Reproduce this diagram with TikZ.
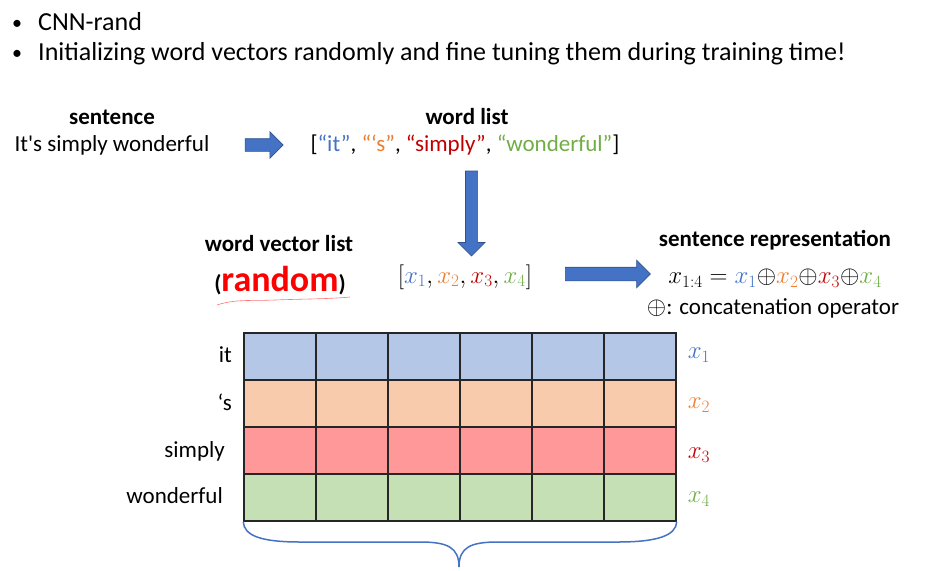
\documentclass[tikz,border=0pt]{standalone}
\usepackage{fontspec}
\setmainfont{Carlito}
\usetikzlibrary{shapes.arrows}
\definecolor{wblue}{HTML}{4472C4}
\definecolor{worange}{HTML}{ED7D31}
\definecolor{wred}{HTML}{C00000}
\definecolor{wgreen}{HTML}{70AD47}
\definecolor{cblue}{HTML}{B4C7E7}
\definecolor{corange}{HTML}{F8CBAD}
\definecolor{cred}{HTML}{FF9999}
\definecolor{cgreen}{HTML}{C5E0B4}
\definecolor{aedge}{HTML}{2F528F}
\definecolor{brightred}{HTML}{FF0000}
\definecolor{gridline}{HTML}{262626}
\newcommand{\straightapos}{\XeTeXglyph\the\XeTeXcharglyph"0027\relax}
\newcommand{\mybullet}{\makebox[26pt][l]{\raisebox{1pt}{\fontsize{20}{24}\selectfont •}}}
\tikzset{
  blockarrow/.style={single arrow, fill=wblue, draw=aedge, line width=0.6pt, single arrow tip angle=90},
  rowbox/.style={draw=gridline, line width=1.5pt, minimum width=432pt, minimum height=47pt, inner sep=0pt},
  body/.style={font=\fontsize{23}{27}\selectfont, inner sep=0pt},
  head/.style={font=\fontsize{23}{27}\selectfont\bfseries, inner sep=0pt},
  title/.style={font=\fontsize{26}{31}\selectfont, inner sep=0pt, anchor=west},
  xlab/.style={font=\fontsize{24}{28}\selectfont, inner sep=0pt},
}
\begin{document}
\begin{tikzpicture}[x=1pt,y=-1pt]
\useasboundingbox (0,0) rectangle (928,570);
% bullets
\node[title] (b1) at (12,22) {\mybullet CNN-rand};
\node[title] (b2) at (12,54) {\mybullet Initializing word vectors randomly and fine tuning them during training time!};
% sentence
\node[head] (senth) at (112,117) {sentence};
\node[body] (sent) at (112,145) {It\straightapos s simply wonderful};
\node[blockarrow, inner sep=6pt, minimum height=38pt, minimum width=26pt, single arrow head extend=7pt] (a1) at (261,145) {};
% word list
\node[head] (wlh) at (467,117) {word list};
\node[body] (wl) at (465,145) {[{\color{wblue}“it”}, {\color{worange}“‘s”}, {\color{wred}“simply”}, {\color{wgreen}“wonderful”}]};
\node[blockarrow, inner sep=5.75pt, shape border rotate=270, minimum height=85pt, minimum width=26pt, single arrow head extend=7.5pt] (a2) at (471.5,210.5) {};
% word vector list
\node[head] (wvh) at (279,244) {word vector list};
\node[inner sep=0pt] (rnd) at (280,281) {\fontsize{23}{27}\selectfont\bfseries(\fontsize{36}{40}\selectfont\color{brightred}random\color{black}\fontsize{23}{27}\selectfont)};
\draw[brightred!55, line width=0.6pt] (217,305) .. controls (235,299) and (250,301) .. (275,300) .. controls (300,299) and (330,299) .. (350,297);
\node[body] (vl) at (465,277) {$[{\color{wblue}x_1}, {\color{worange}x_2}, {\color{wred}x_3}, {\color{wgreen}x_4}]$};
\node[blockarrow, inner sep=6.5pt, minimum height=85pt, minimum width=27pt, single arrow head extend=7pt] (a3) at (604.5,274) {};
% sentence representation
\node[head] (srh) at (775,240) {sentence representation};
\node[font=\fontsize{24}{28}\selectfont, inner sep=0pt] (sr) at (775,278) {$x_{1:4}={\color{wblue}x_1}{\oplus}{\color{worange}x_2}{\oplus}{\color{wred}x_3}{\oplus}{\color{wgreen}x_4}$};
\node[body] (cat) at (773,308) {$\oplus$: concatenation operator};
% grid rows
\node[rowbox, fill=cblue] (r1) at (460,356.5) {};
\node[rowbox, fill=corange] (r2) at (460,403.5) {};
\node[rowbox, fill=cred] (r3) at (460,450.5) {};
\node[rowbox, fill=cgreen] (r4) at (460,497.5) {};
\foreach \x in {316,388,460,532,604}
  \draw[gridline, line width=1.5pt] (\x,333) -- (\x,521);
% row labels
\node[body, anchor=east] (l1) at (232,355) {it};
\node[body, anchor=east] (l2) at (232,402) {‘s};
\node[body, anchor=east] (l3) at (225,451) {simply};
\node[body, anchor=east] (l4) at (223,496) {wonderful};
% x labels
\node[xlab] (x1) at (699,355) {$\color{wblue}x_1$};
\node[xlab] (x2) at (699,405) {$\color{worange}x_2$};
\node[xlab] (x3) at (699,455) {$\color{wred}x_3$};
\node[xlab] (x4) at (699,499) {$\color{wgreen}x_4$};
% brace
\coordinate (btip) at (459,567);
\draw[wblue, line width=1.5pt] (r4.south west) .. controls (244,536) and (262,542) .. (300,542) -- (420,542) .. controls (447,542) and (459,547) .. (btip);
\draw[wblue, line width=1.5pt] (r4.south east) .. controls (676,536) and (656,542) .. (618,542) -- (498,542) .. controls (471,542) and (459,547) .. (btip);
\end{tikzpicture}
\end{document}
